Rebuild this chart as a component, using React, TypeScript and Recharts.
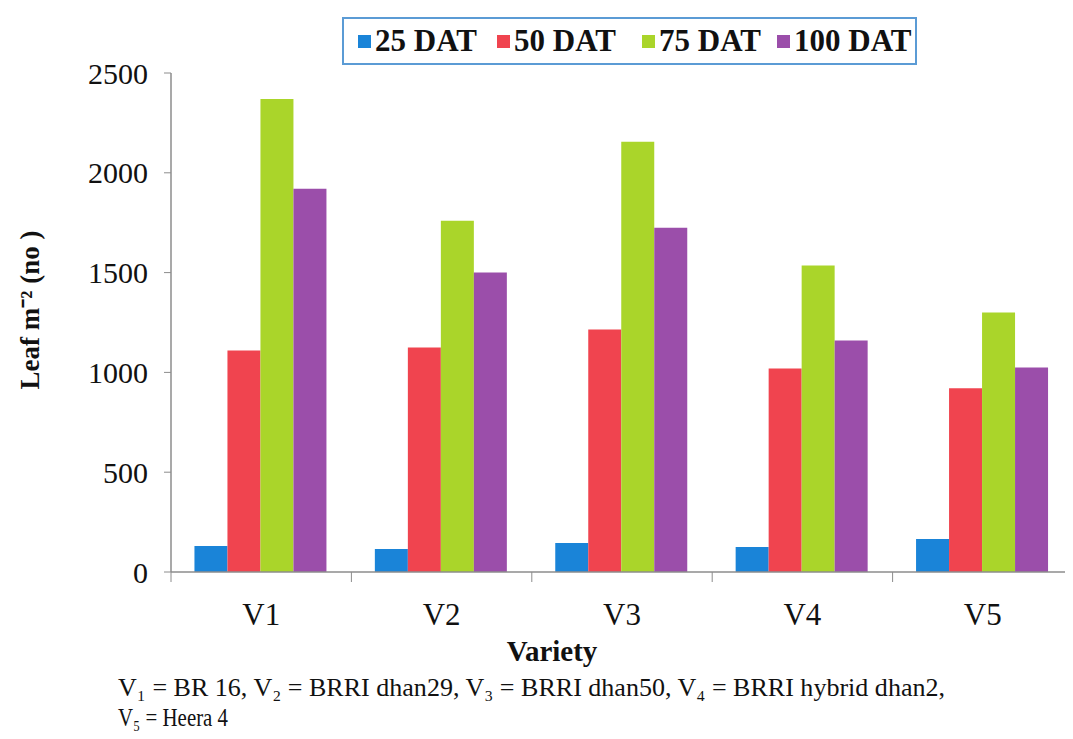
import { BarChart, Bar, XAxis, YAxis } from 'recharts';

const varieties = ['V1', 'V2', 'V3', 'V4', 'V5'];
const dat25 = [130, 115, 145, 125, 165];
const dat50 = [1110, 1125, 1215, 1020, 920];
const dat75 = [2370, 1760, 2155, 1535, 1300];
const dat100 = [1920, 1500, 1725, 1160, 1025];
const yTicks = [0, 500, 1000, 1500, 2000, 2500];

const seriesNames = ['25 DAT', '50 DAT', '75 DAT', '100 DAT'];
const seriesKeys = ['d25', 'd50', 'd75', 'd100'];
const seriesColors = ['#1a84d8', '#f0444f', '#aad52a', '#9b4eaa'];

const FONT = '"Liberation Serif", "Times New Roman", serif';
const AXIS_COLOR = '#8c8c8c';
const LABEL_GAP = 31; // distance from axis line to tick label anchor

// legend item left edges (square position)
const legendX = [14, 153, 298, 433];

// category label plus the Excel-style tick marks on the category boundaries
const VarietyTick = (props: any) => {
  const { x, y, payload, index, visibleTicksCount } = props;
  const half = payload.offset || 90.2;
  const axisY = y - LABEL_GAP;
  const last = index === (visibleTicksCount ?? varieties.length) - 1;
  return (
    <g>
      <line x1={x - half} x2={x - half} y1={axisY} y2={axisY + 10} stroke={AXIS_COLOR} />
      {last && <line x1={x + half} x2={x + half} y1={axisY} y2={axisY + 10} stroke={AXIS_COLOR} />}
      <text x={x} y={y} dy="0.71em" textAnchor="middle" fontSize={31} fill="#111" fontFamily={FONT}>
        {payload.value}
      </text>
    </g>
  );
};

const App = () => {
  // one row per variety for recharts
  const data = varieties.map((v, i) => ({
    name: v,
    d25: dat25[i],
    d50: dat50[i],
    d75: dat75[i],
    d100: dat100[i],
  }));

  return (
    <div style={{ position: 'relative', width: 1073, height: 739, margin: -8, background: '#fff', fontFamily: FONT }}>
      <BarChart
        width={1073}
        height={739}
        data={data}
        margin={{ top: 73, right: 0, left: 0, bottom: 0 }}
        barCategoryGap="13%"
        barGap={0}
      >
        <XAxis
          dataKey="name"
          height={167}
          tickLine={false}
          tickSize={0}
          tickMargin={LABEL_GAP}
          interval={0}
          axisLine={{ stroke: AXIS_COLOR, strokeWidth: 1.5 }}
          tick={<VarietyTick />}
        />
        <YAxis
          width={171}
          domain={[0, 2500]}
          ticks={yTicks}
          interval={0}
          tickSize={7}
          tickMargin={16}
          axisLine={{ stroke: AXIS_COLOR, strokeWidth: 1.5 }}
          tickLine={{ stroke: AXIS_COLOR }}
          tick={{ fontSize: 30, fill: '#111', fontFamily: FONT }}
        />
        {seriesKeys.map((k, i) => (
          <Bar key={k} dataKey={k} name={seriesNames[i]} fill={seriesColors[i]} isAnimationActive={false} />
        ))}
      </BarChart>

      {/* legend box */}
      <div
        style={{
          position: 'absolute',
          left: 342,
          top: 17,
          width: 575,
          height: 48,
          border: '2px solid #5b9bd5',
          boxSizing: 'border-box',
          background: '#fff',
        }}
      >
        {seriesNames.map((n, i) => (
          <div
            key={n}
            style={{
              position: 'absolute',
              left: legendX[i],
              top: 0,
              height: 44,
              display: 'flex',
              alignItems: 'center',
              fontWeight: 'bold',
              fontSize: 31,
              color: '#111',
              whiteSpace: 'nowrap',
            }}
          >
            <span style={{ width: 13, height: 13, background: seriesColors[i], marginRight: 4, display: 'inline-block' }} />
            {n}
          </div>
        ))}
      </div>

      {/* axis titles and footnote */}
      <svg width={1073} height={739} style={{ position: 'absolute', left: 0, top: 0, pointerEvents: 'none' }}>
        <text
          transform="translate(39, 310) rotate(-90)"
          textAnchor="middle"
          fontFamily={FONT}
          fontWeight="bold"
          fontSize={27}
          fill="#111"
        >
          Leaf m⁻² (no )
        </text>
        <text x={552} y={661} textAnchor="middle" fontFamily={FONT} fontWeight="bold" fontSize={29} fill="#111">
          Variety
        </text>
        <text x={118} y={696} fontFamily={FONT} fontSize={26} fill="#111" textLength={827} lengthAdjust="spacingAndGlyphs">
          V₁ = BR 16, V₂ = BRRI dhan29, V₃ = BRRI dhan50, V₄ = BRRI hybrid dhan2,
        </text>
        <text x={118} y={726} fontFamily={FONT} fontSize={26} fill="#111" textLength={110} lengthAdjust="spacingAndGlyphs">
          V₅ = Heera 4
        </text>
      </svg>
    </div>
  );
};

export default App;
